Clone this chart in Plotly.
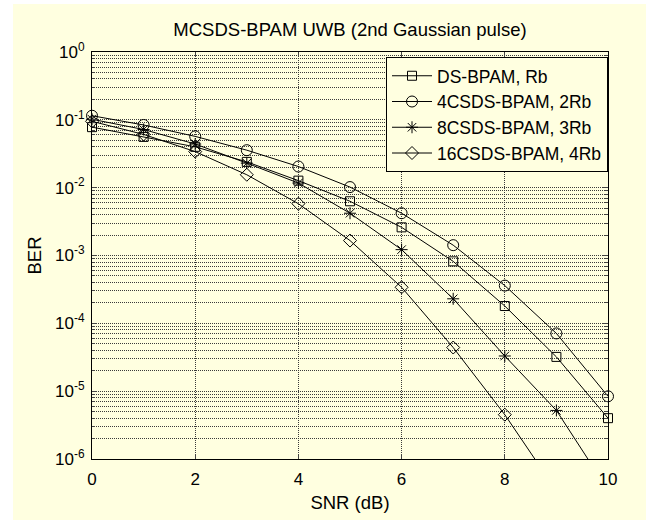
import plotly.graph_objects as go

snr = [0, 1, 2, 3, 4, 5, 6, 7, 8, 9, 10]
ber_ds = [0.078, 0.056, 0.040, 0.024, 0.0127, 0.0063, 0.0026, 8.2e-4, 1.8e-4, 3.2e-5, 4.0e-6]
ber_4cs = [0.115, 0.084, 0.057, 0.0357, 0.0205, 0.0102, 0.0042, 1.42e-3, 3.6e-4, 7.1e-5, 8.4e-6]
ber_8cs = [0.102, 0.072, 0.044, 0.023, 0.0117, 0.0042, 0.00122, 2.3e-4, 3.3e-5, 5.2e-6, 3.5e-7]
ber_16cs = [0.095, 0.061, 0.034, 0.0155, 0.0058, 0.00166, 3.4e-4, 4.4e-5, 4.5e-6, 3.4e-7, None]

names = ["DS-BPAM, Rb", "4CSDS-BPAM, 2Rb", "8CSDS-BPAM, 3Rb", "16CSDS-BPAM, 4Rb"]
symbols = ["square-open", "circle-open", "asterisk-open", "diamond-open"]
sizes = [9, 11, 10, 10]

ytick_vals = [1, 1e-1, 1e-2, 1e-3, 1e-4, 1e-5, 1e-6]
ytick_text = ["10<sup>0</sup>", "10<sup>-1</sup>", "10<sup>-2</sup>", "10<sup>-3</sup>",
              "10<sup>-4</sup>", "10<sup>-5</sup>", "10<sup>-6</sup>"]
xtick_vals = [0, 2, 4, 6, 8, 10]

BG = "#FFFFE0"
FONT = "Liberation Sans, Arial, sans-serif"

fig = go.Figure()
for name, ys, sym, sz in zip(names, [ber_ds, ber_4cs, ber_8cs, ber_16cs], symbols, sizes):
    fig.add_trace(go.Scatter(
        x=snr, y=ys, name=name, mode="lines+markers",
        line=dict(color="black", width=1),
        marker=dict(symbol=sym, size=sz, color="black", line=dict(color="black", width=1)),
        cliponaxis=False,
    ))

# beige figure background (with white margins left/right/top like the reference)
fig.add_shape(type="rect", xref="paper", yref="paper",
              x0=(13 - 92) / 516, x1=(646 - 92) / 516,
              y0=(459 - 525) / 407, y1=(459 - 4) / 407,
              fillcolor=BG, line=dict(width=0), layer="below")

grid_dash = "1px,1px"
grid_col = "#3a3a3a"

fig.update_layout(
    width=656, height=520,
    margin=dict(l=92, r=48, t=52, b=61),
    paper_bgcolor="white", plot_bgcolor=BG,
    font=dict(family=FONT, size=17, color="black"),
    title=dict(text="MCSDS-BPAM UWB (2nd Gaussian pulse)", x=0.5, xref="paper",
               y=1 - 30 / 520, yanchor="middle", font=dict(size=18.5)),
    showlegend=True,
    legend=dict(x=1, y=0.988, xanchor="right", yanchor="top",
                bgcolor=BG, bordercolor="black", borderwidth=1,
                font=dict(size=17.5), itemwidth=40, tracegroupgap=0),
)

fig.update_xaxes(
    range=[0, 10], tickvals=xtick_vals, ticks="inside", ticklen=5,
    ticklabelstandoff=5,
    showline=True, linecolor="black", linewidth=1, mirror="allticks",
    showgrid=True, gridcolor=grid_col, griddash=grid_dash, gridwidth=1,
    zeroline=False, title=dict(text="SNR (dB)", standoff=7, font=dict(size=18.5)),
)
fig.update_yaxes(
    type="log", range=[-6, 0], tickvals=ytick_vals, ticktext=ytick_text,
    ticks="inside", ticklen=5, ticklabelstandoff=3,
    showline=True, linecolor="black", linewidth=1, mirror="allticks",
    showgrid=True, gridcolor=grid_col, griddash=grid_dash, gridwidth=1,
    zeroline=False, title=dict(text="BER", standoff=8, font=dict(size=18.5)),
    minor=dict(dtick="D1", ticks="inside", ticklen=3, showgrid=True,
               gridcolor=grid_col, griddash=grid_dash, gridwidth=1),
)

fig.write_html("out.html", config={"displayModeBar": False},
               post_script="document.body.style.margin='0';")
